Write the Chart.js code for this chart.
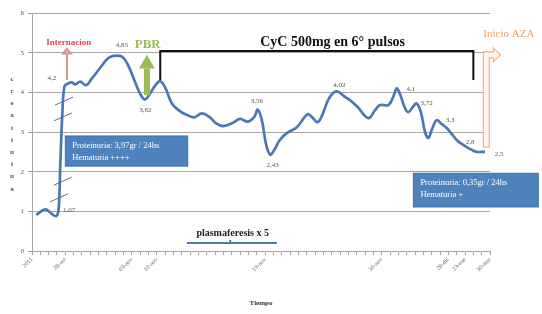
<!DOCTYPE html>
<html>
<head>
<meta charset="utf-8">
<script src="https://cdn.jsdelivr.net/npm/chart.js@4/dist/chart.umd.min.js"></script>
<style>
    body { margin: 0; background: #fff; }
    #wrap { width: 542px; height: 314px; position: relative; }
</style>
</head>
<body>
<div id="wrap"><canvas id="creatininaChart"></canvas></div>
<script>
// Tick positions and their labels on the time axis
const tickIndex = [0, 4, 12, 15, 28, 42, 50, 52, 55];
const tickLabels = ['2011', '28-oct', '03-nov', '10-nov', '19-nov', '30-nov', '28-dic', '23-ene', '30-mar'];

// Creatinina curve (position along the axis, value)
const timeSteps = [0.5, 1.6, 2.3, 2.9, 3.2, 3.4, 3.65, 3.9, 4.3, 4.8, 5.2, 5.8, 6.5, 7.2, 8.2, 9.1, 9.8, 10.8, 11.5,
    12.4, 13.1, 13.6, 14.2, 14.9, 15.4, 16.0, 16.8, 17.8, 18.7, 19.5, 20.4, 21.3, 22.1, 22.9, 24.0, 25.0, 25.9,
    26.7, 27.1, 27.6, 28.1, 28.6, 29.1, 29.7, 30.6, 31.8, 33.1, 33.6, 34.3, 34.9, 35.5, 36.1, 36.7, 37.5, 38.2,
    39.1, 40.4, 41.2, 41.8, 42.8, 43.4, 43.8, 44.2, 44.8, 45.2, 45.8, 46.2, 46.7, 47.2, 47.6, 48.0, 48.6, 49.2,
    49.8, 50.4, 51.0, 51.6, 52.2, 52.8, 53.4, 54.4];
const creatinina = [0.91, 1.05, 0.95, 0.88, 1.07, 2.2, 3.5, 4.15, 4.22, 4.25, 4.2, 4.27, 4.18, 4.35, 4.62, 4.85, 4.92, 4.9, 4.7,
    4.25, 3.92, 3.82, 3.98, 4.2, 4.28, 4.12, 3.72, 3.52, 3.42, 3.37, 3.47, 3.38, 3.22, 3.15, 3.22, 3.33, 3.26,
    3.38, 3.56, 3.3, 2.7, 2.43, 2.55, 2.78, 2.97, 3.12, 3.45, 3.38, 3.25, 3.45, 3.78, 3.97, 4.02, 3.9, 3.8,
    3.63, 3.35, 3.55, 3.68, 3.68, 3.9, 4.1, 3.95, 3.6, 3.5, 3.65, 3.72, 3.5, 3.0, 2.85, 3.05, 3.3, 3.2,
    3.1, 2.95, 2.8, 2.7, 2.62, 2.55, 2.5, 2.5];

// Value labels written next to the curve
const valueLabels = ['1,07', '4,2', '4,85', '3,82', '3,56', '2,43', '4,02', '4,1', '3,72', '3,3', '2,8', '2,5'];
const valueLabelX = [4.45, 2.4, 10.8, 13.6, 27.0, 28.9, 36.9, 45.5, 47.4, 50.2, 52.6, 56.1];
const valueLabelY = [1.03, 4.36, 5.19, 3.55, 3.78, 2.17, 4.18, 4.08, 3.73, 3.30, 2.75, 2.44];

const SERIF = '"Liberation Serif", "DejaVu Serif", serif';
const BLUE = '#4a78b5';

// Helper: data units -> pixels
function px(chart, x) { return chart.scales.x.getPixelForValue(x); }
function py(chart, y) { return chart.scales.y.getPixelForValue(y); }

function drawText(ctx, text, x, y, font, color, align) {
    ctx.font = font;
    ctx.fillStyle = color;
    ctx.textAlign = align || 'center';
    ctx.textBaseline = 'middle';
    ctx.fillText(text, x, y);
}

function drawInfoBox(ctx, chart, x1, y1, x2, y2, lines) {
    const left = px(chart, x1), top = py(chart, y1);
    const right = px(chart, x2), bottom = py(chart, y2);
    ctx.fillStyle = '#4f81bd';
    ctx.fillRect(left, top, right - left, bottom - top);
    ctx.strokeStyle = '#3f6ea6';
    ctx.lineWidth = 1;
    ctx.strokeRect(left, top, right - left, bottom - top);
    lines.forEach((line, i) => {
        drawText(ctx, line, left + 7, top + 10 + i * 12, '8.5px ' + SERIF, '#ffffff', 'left');
    });
}

// Annotations drawn on top of the chart
const annotations = {
    id: 'annotations',
    afterDatasetsDraw(chart) {
        const ctx = chart.ctx;
        ctx.save();

        // Broken axis marks on the jump 1,07 -> 4,2
        ctx.strokeStyle = '#5a6f8c';
        ctx.lineWidth = 1;
        [[3.25, 1.34], [3.7, 1.76], [3.7, 3.38], [3.85, 3.78]].forEach(([bx, by]) => {
            const cx = px(chart, bx), cy = py(chart, by);
            ctx.beginPath();
            ctx.moveTo(cx - 9, cy + 4);
            ctx.lineTo(cx + 9, cy - 4);
            ctx.stroke();
        });

        // Internacion arrow
        const ix = px(chart, 4.2);
        ctx.strokeStyle = '#d99694';
        ctx.fillStyle = '#e6b9b8';
        ctx.lineWidth = 2;
        ctx.beginPath();
        ctx.moveTo(ix, py(chart, 4.31));
        ctx.lineTo(ix, py(chart, 5.0));
        ctx.stroke();
        ctx.beginPath();
        ctx.moveTo(ix - 4, py(chart, 4.98));
        ctx.lineTo(ix, py(chart, 5.1));
        ctx.lineTo(ix + 4, py(chart, 4.98));
        ctx.closePath();
        ctx.fill();
        ctx.stroke();
        drawText(ctx, 'Internacion', px(chart, 4.4), py(chart, 5.24), 'bold 9px ' + SERIF, '#e0474c');

        // PBR arrow
        const bx = px(chart, 13.8);
        ctx.fillStyle = '#9bbb59';
        ctx.fillRect(bx - 3, py(chart, 4.6), 6, py(chart, 3.93) - py(chart, 4.6));
        ctx.beginPath();
        ctx.moveTo(bx - 8, py(chart, 4.6));
        ctx.lineTo(bx, py(chart, 4.95));
        ctx.lineTo(bx + 8, py(chart, 4.6));
        ctx.closePath();
        ctx.fill();
        drawText(ctx, 'PBR', px(chart, 13.9), py(chart, 5.19), 'bold 13px ' + SERIF, '#9bbb59');

        // CyC bracket
        ctx.strokeStyle = '#111';
        ctx.lineWidth = 2;
        ctx.beginPath();
        ctx.moveTo(px(chart, 15.4), py(chart, 4.31));
        ctx.lineTo(px(chart, 15.4), py(chart, 5.04));
        ctx.lineTo(px(chart, 53.0), py(chart, 5.04));
        ctx.lineTo(px(chart, 53.0), py(chart, 4.31));
        ctx.stroke();
        drawText(ctx, 'CyC 500mg en 6\u00b0 pulsos', px(chart, 36.1), py(chart, 5.27), 'bold 14px ' + SERIF, '#111');

        // Inicio AZA bent arrow
        const ax = px(chart, 54.2), ab = py(chart, 2.62), at = py(chart, 5.02);
        ctx.strokeStyle = '#f4b183';
        ctx.fillStyle = '#fff8f2';
        ctx.lineWidth = 1.2;
        ctx.beginPath();
        ctx.moveTo(ax, ab);
        ctx.lineTo(ax, at);
        ctx.lineTo(ax + 10, at);
        ctx.lineTo(ax + 10, at - 4);
        ctx.lineTo(ax + 17, at + 3);
        ctx.lineTo(ax + 10, at + 10);
        ctx.lineTo(ax + 10, at + 6);
        ctx.lineTo(ax + 6, at + 6);
        ctx.lineTo(ax + 6, ab);
        ctx.closePath();
        ctx.fill();
        ctx.stroke();
        drawText(ctx, 'Inicio AZA', ax, py(chart, 5.47), '11px ' + SERIF, '#f0a060', 'left');

        // Info boxes
        drawInfoBox(ctx, chart, 4.0, 2.9, 18.7, 2.14, ['Proteinuria: 3,97gr / 24hs', 'Hematuria ++++']);
        drawInfoBox(ctx, chart, 45.8, 1.96, 60.8, 1.11, ['Proteinuria: 0,35gr / 24hs', 'Hematuria +']);

        // Plasmaferesis bar
        drawText(ctx, 'plasmaferesis x 5', px(chart, 24.1), py(chart, 0.45), 'bold 10px ' + SERIF, '#222');
        const pyBar = py(chart, 0.2);
        ctx.strokeStyle = BLUE;
        ctx.lineWidth = 2;
        ctx.beginPath();
        ctx.moveTo(px(chart, 18.6), pyBar);
        ctx.lineTo(px(chart, 29.4), pyBar);
        ctx.moveTo(px(chart, 23.8), pyBar);
        ctx.lineTo(px(chart, 23.8), pyBar - 3);
        ctx.stroke();

        // Value labels
        valueLabels.forEach((label, i) => {
            drawText(ctx, label, px(chart, valueLabelX[i]), py(chart, valueLabelY[i]), '7px ' + SERIF, '#555');
        });

        // Stacked y axis title
        const letters = 'creatinina'.split('');
        letters.forEach((ch, i) => {
            drawText(ctx, ch, 12, 79 + i * 12.2, 'bold 7px ' + SERIF, '#555');
        });

        ctx.restore();
    }
};

const ctx = document.getElementById('creatininaChart').getContext('2d');
const chart = new Chart(ctx, {
    type: 'line',
    data: {
        datasets: [{
            label: 'creatinina',
            data: timeSteps.map((t, i) => ({ x: t, y: creatinina[i] })),
            borderColor: BLUE,
            borderWidth: 2.7,
            pointRadius: 0,
            fill: false,
            tension: 0.4
        }]
    },
    options: {
        responsive: true,
        maintainAspectRatio: false,
        animation: false,
        layout: { padding: { top: 13, right: 52, left: 0, bottom: 0 } },
        plugins: {
            legend: { display: false },
            tooltip: { enabled: false }
        },
        scales: {
            x: {
                type: 'linear',
                min: 0,
                max: 55,
                afterFit: scale => { scale.height = 63; },
                ticks: {
                    stepSize: 1,
                    autoSkip: false,
                    maxTicksLimit: 100,
                    minRotation: 45,
                    maxRotation: 45,
                    padding: 1,
                    font: { family: SERIF, size: 6 },
                    color: '#666',
                    callback: value => {
                        const i = tickIndex.indexOf(value);
                        return i >= 0 ? tickLabels[i] : '';
                    }
                },
                grid: { drawOnChartArea: false, tickLength: 4, color: '#a6a6a6' },
                border: { color: '#a6a6a6' },
                title: {
                    display: true,
                    text: 'Tiempo',
                    color: '#333',
                    font: { family: SERIF, size: 7, weight: 'bold' },
                    padding: { top: 0, bottom: 7 }
                }
            },
            y: {
                min: 0,
                max: 6,
                afterFit: scale => { scale.width = 32; },
                ticks: {
                    stepSize: 1,
                    padding: 4,
                    font: { family: SERIF, size: 7 },
                    color: '#555'
                },
                grid: { color: '#a6a6a6', tickLength: 4 },
                border: { color: '#a6a6a6' }
            }
        }
    },
    plugins: [annotations]
});
</script>
</body>
</html>
